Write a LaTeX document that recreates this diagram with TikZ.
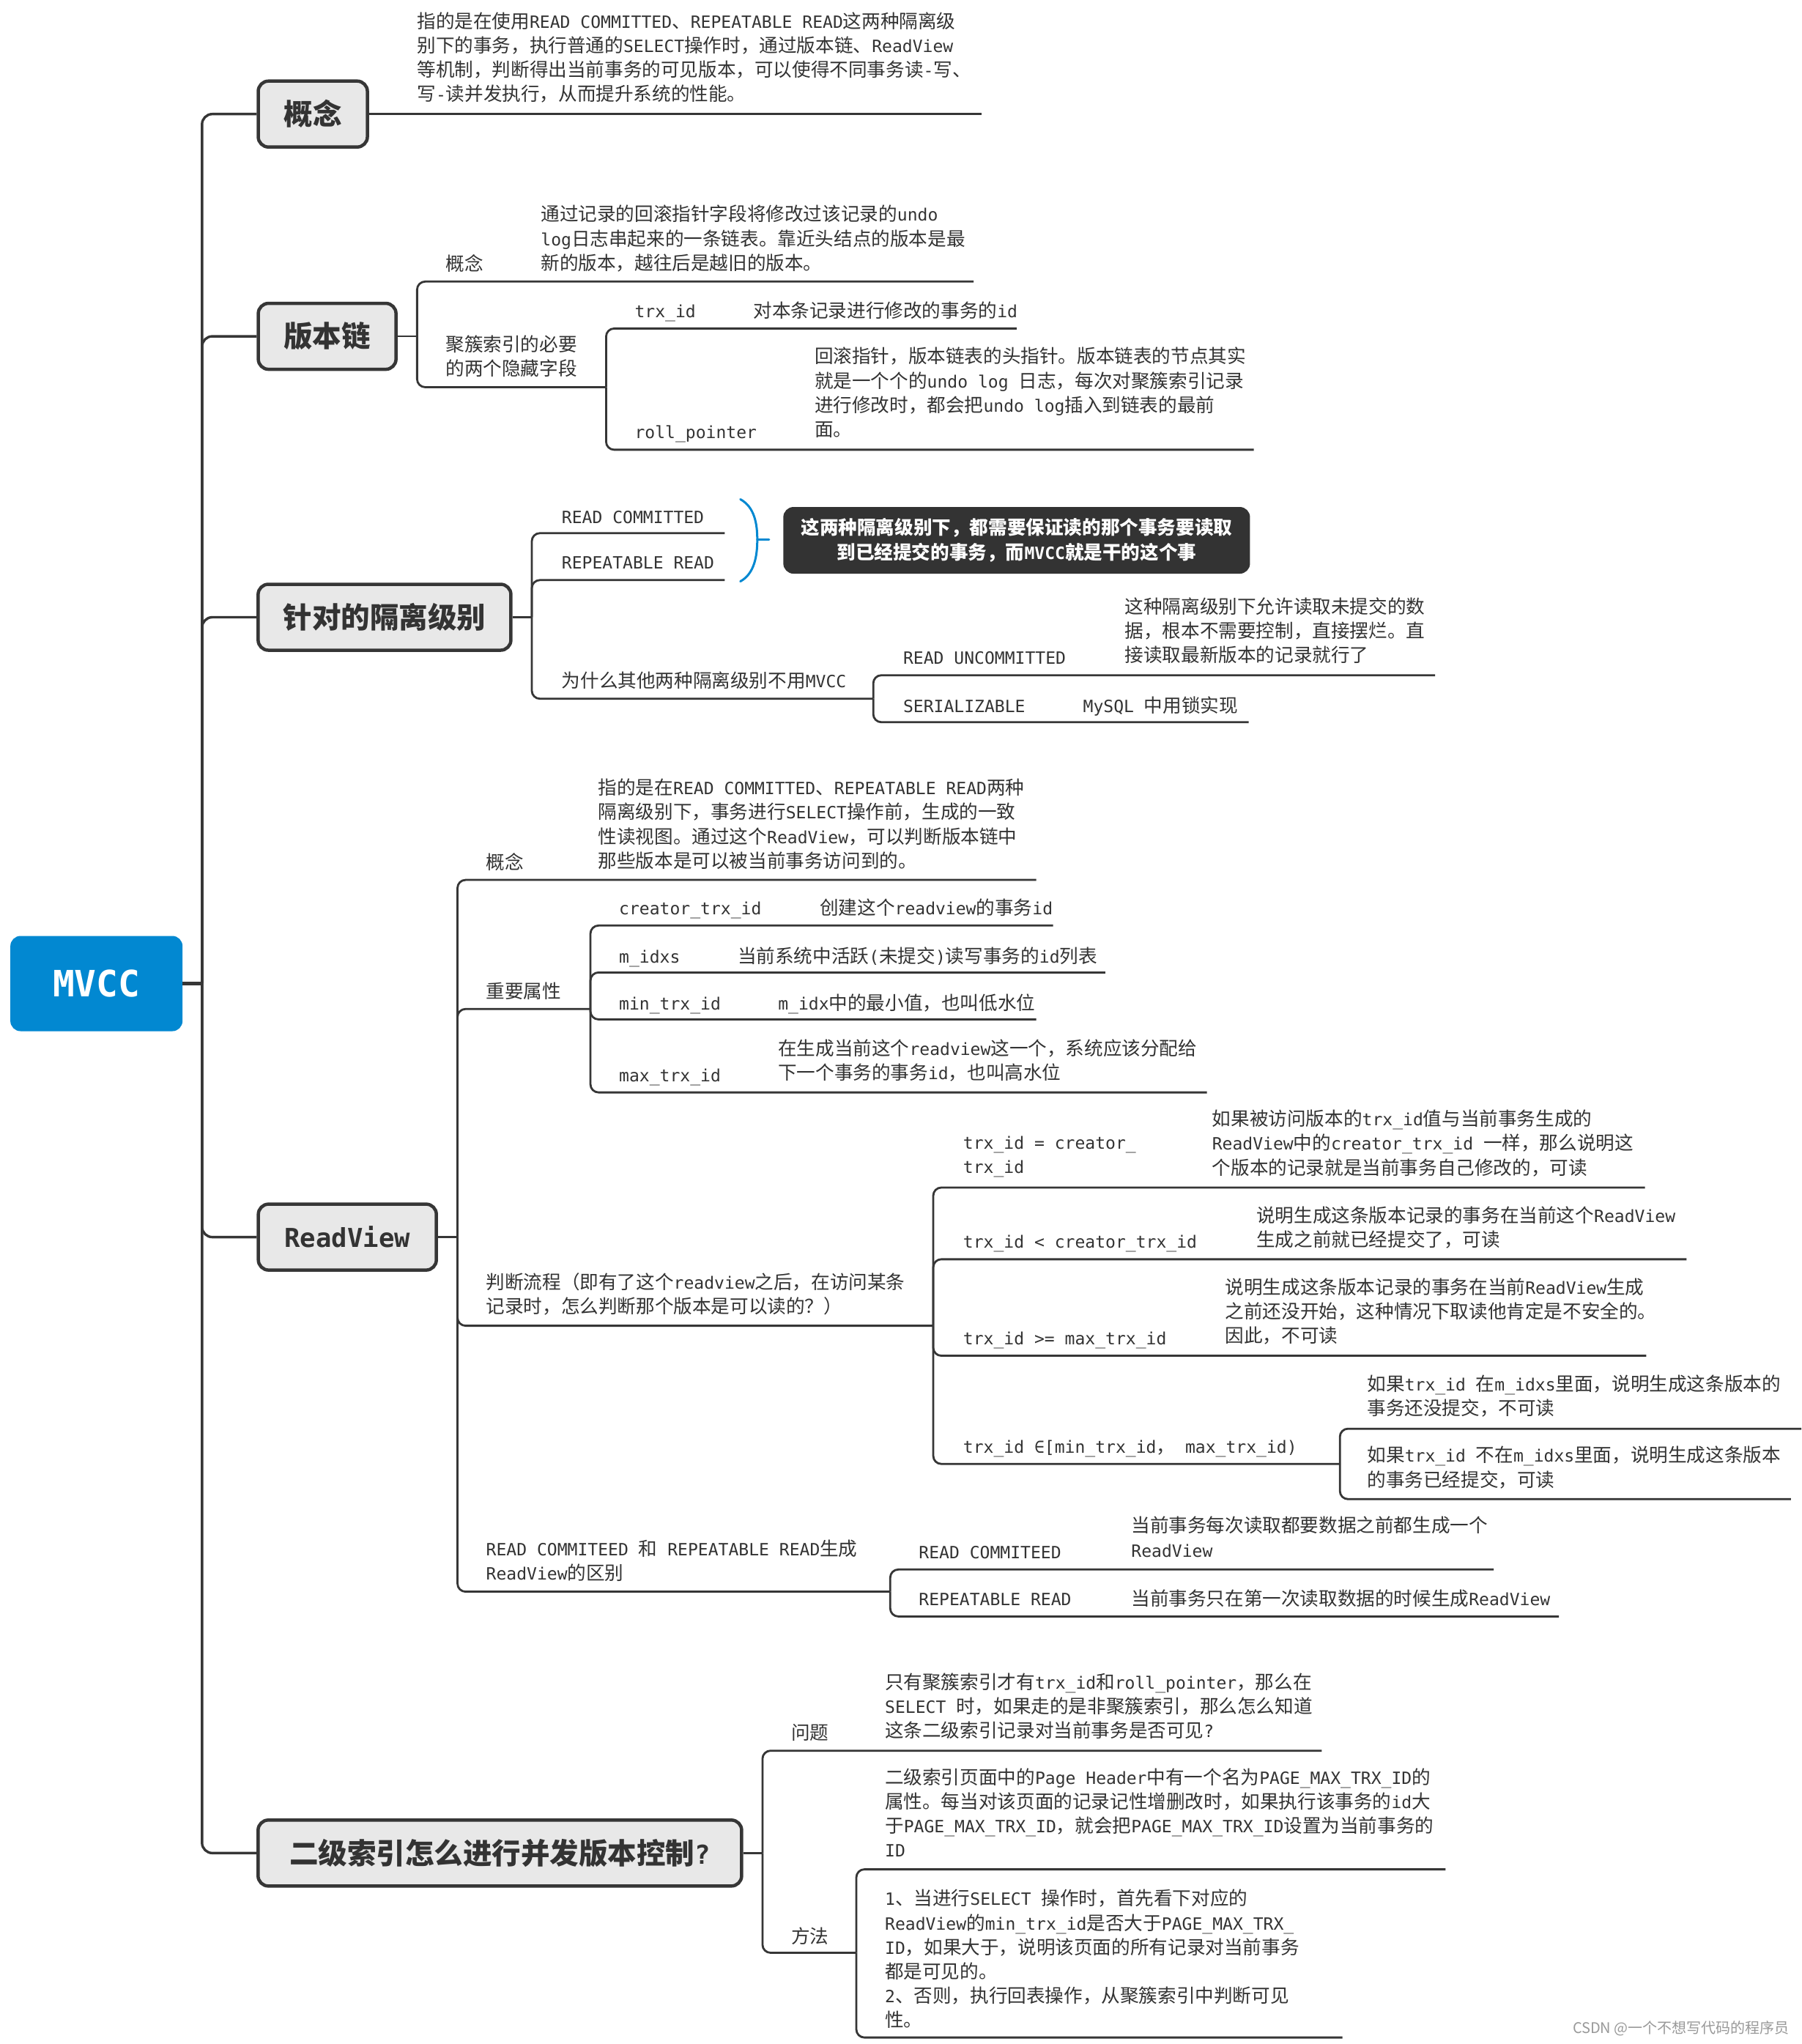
\documentclass[tikz,border=0pt]{standalone}
\usepackage{fontspec}
\setmainfont{Noto Sans CJK SC}
\newfontfamily\cjkf{Noto Sans CJK SC}
\newfontfamily\monof[Scale=0.9]{DejaVu Sans Mono}
\newcommand\mn[1]{{\monof#1}}
\definecolor{lc}{HTML}{363636}
\definecolor{tc}{HTML}{333333}
\definecolor{mblue}{HTML}{0288D1}
\definecolor{boxfill}{HTML}{E8E8E8}
\begin{document}
\begin{tikzpicture}[x=1.779pt,y=-1.779pt,
  txt/.style={anchor=north west, inner sep=0pt, outer sep=0pt, align=left, text=tc,
    yshift=13.3pt, font=\cjkf\fontsize{25.6}{33.1}\selectfont, execute at begin node=\strut},
  ln/.style={draw=lc, line width=2.8pt, rounded corners=11pt},
  spine/.style={draw=lc, line width=3.4pt, rounded corners=14pt},
  hbox/.style={draw=lc, line width=4.5pt, fill=boxfill, rounded corners=14pt,
    minimum height=90pt, inner sep=0pt, text=tc,
    font=\bfseries\cjkf\fontsize{39.5}{45}\selectfont},
  mvccbox/.style={fill=mblue, rounded corners=14pt, minimum width=235pt, minimum height=130pt,
    inner sep=0pt, text=white, font=\bfseries\monof\fontsize{55}{60}\selectfont},
  darkbox/.style={fill=tc, rounded corners=14pt, minimum width=637pt, minimum height=91pt,
    inner sep=0pt, align=center, text=white, font=\bfseries\cjkf\fontsize{25.6}{33.8}\selectfont},
  bracecol/.style={draw=mblue, line width=3pt, line cap=round},
  wm/.style={anchor=east, inner sep=0pt, text=black!40, font=\cjkf\fontsize{20}{24}\selectfont}
]
\fill[white] (0,0) rectangle (1382,1568);
\useasboundingbox (0,0) rectangle (1382,1568);

% ---------- root and main branches ----------
\node[mvccbox] (mvcc) at (74,754.5) {MVCC};
\coordinate (sj) at (155,754.5);
\node[hbox, minimum width=149pt] (b1) at (240,87.5) {概念};
\node[hbox, minimum width=188pt] (b2) at (251,258) {版本链};
\node[hbox, minimum width=345pt] (b3) at (295,473.5) {针对的隔离级别};
\node[hbox, minimum width=243pt] (b4) at (266.5,949) {\mn{ReadView}};
\node[hbox, minimum width=660pt] (b5) at (383.5,1421.5) {二级索引怎么进行并发版本控制\mn{?}};
\draw[spine, line width=4.5pt] (mvcc.east) -- (sj);
\foreach \b in {b1,b2,b3,b4,b5} \draw[spine] (sj) |- (\b.west);

% ---------- 概念 ----------
\node[txt] (c1) at (320,17) {指的是在使用\mn{READ COMMITTED}、\mn{REPEATABLE READ}这两种隔离级\\别下的事务，执行普通的\mn{SELECT}操作时，通过版本链、\mn{ReadView}\\等机制，判断得出当前事务的可见版本，可以使得不同事务读\mn{-}写、\\写\mn{-}读并发执行，从而提升系统的性能。};
\coordinate (c1e) at (753,87.5);
\draw[ln] (b1.east) -- (c1e);

% ---------- 版本链 ----------
\coordinate (j2) at (320,258);
\draw[ln] (b2.east) -- (j2);
\node[txt] (v1l) at (342,202) {概念};
\node[txt] (v1d) at (415,165) {通过记录的回滚指针字段将修改过该记录的\mn{undo}\\\mn{log}日志串起来的一条链表。靠近头结点的版本是最\\新的版本，越往后是越旧的版本。};
\coordinate (v1e) at (747,216);
\draw[ln] (j2) |- (v1e);
\node[txt] (v2l) at (342,265) {聚簇索引的必要\\的两个隐藏字段};
\coordinate (j2b) at (465,297);
\draw[ln] (j2) |- (j2b);
\node[txt] (v21l) at (487,238) {\mn{trx\_id}};
\node[txt] (v21d) at (578,238) {对本条记录进行修改的事务的\mn{id}};
\coordinate (v21e) at (780,252);
\draw[ln] (j2b) |- (v21e);
\node[txt] (v22l) at (487,331) {\mn{roll\_pointer}};
\node[txt] (v22d) at (625,274) {回滚指针，版本链表的头指针。版本链表的节点其实\\就是一个个的\mn{undo log }日志，每次对聚簇索引记录\\进行修改时，都会把\mn{undo log}插入到链表的最前\\面。};
\coordinate (v22e) at (962,345);
\draw[ln] (j2b) |- (v22e);

% ---------- 针对的隔离级别 ----------
\coordinate (j3) at (408,473.5);
\draw[ln] (b3.east) -- (j3);
\node[txt] (i1) at (431,396) {\mn{READ COMMITTED}};
\coordinate (i1e) at (556,409);
\draw[ln] (j3) |- (i1e);
\node[txt] (i2) at (431,431) {\mn{REPEATABLE READ}};
\coordinate (i2e) at (556,445);
\draw[ln] (j3) |- (i2e);
\draw[bracecol] (568,383) .. controls (579,389) and (581,402) .. (581,414)
  .. controls (581,426) and (579,440) .. (568,446);
\draw[bracecol] (581,414) -- (590,414);
\node[darkbox] (note) at (780,414.5) {这两种隔离级别下，都需要保证读的那个事务要读取\\到已经提交的事务，而\mn{MVCC}就是干的这个事};
\node[txt] (i3) at (431,522) {为什么其他两种隔离级别不用\mn{MVCC}};
\coordinate (j3c) at (670,536);
\draw[ln] (j3) |- (j3c);
\node[txt] (i31l) at (693,504) {\mn{READ UNCOMMITTED}};
\node[txt] (i31d) at (863,466) {这种隔离级别下允许读取未提交的数\\据，根本不需要控制，直接摆烂。直\\接读取最新版本的记录就行了};
\coordinate (i31e) at (1101,518);
\draw[ln] (j3c) |- (i31e);
\node[txt] (i32l) at (693,541) {\mn{SERIALIZABLE}};
\node[txt] (i32d) at (831,541) {\mn{MySQL }中用锁实现};
\coordinate (i32e) at (958,554);
\draw[ln] (j3c) |- (i32e);

% ---------- ReadView ----------
\coordinate (j4) at (351,949);
\draw[ln] (b4.east) -- (j4);
\node[txt] (r1l) at (373,661) {概念};
\node[txt] (r1d) at (459,605) {指的是在\mn{READ COMMITTED}、\mn{REPEATABLE READ}两种\\隔离级别下，事务进行\mn{SELECT}操作前，生成的一致\\性读视图。通过这个\mn{ReadView}，可以判断版本链中\\那些版本是可以被当前事务访问到的。};
\coordinate (r1e) at (795,675);
\draw[ln] (j4) |- (r1e);
\node[txt] (r2l) at (373,760) {重要属性};
\coordinate (j4b) at (453,774);
\draw[ln] (j4) |- (j4b);
\node[txt] (r21l) at (475,696) {\mn{creator\_trx\_id}};
\node[txt] (r21d) at (629,696) {创建这个\mn{readview}的事务\mn{id}};
\coordinate (r21e) at (808,710);
\draw[ln] (j4b) |- (r21e);
\node[txt] (r22l) at (475,733) {\mn{m\_idxs}};
\node[txt] (r22d) at (566,733) {当前系统中活跃\mn{(}未提交\mn{)}读写事务的\mn{id}列表};
\coordinate (r22e) at (848,746);
\draw[ln] (j4b) |- (r22e);
\node[txt] (r23l) at (475,769) {\mn{min\_trx\_id}};
\node[txt] (r23d) at (597,769) {\mn{m\_idx}中的最小值，也叫低水位};
\coordinate (r23e) at (795,782);
\draw[ln] (j4b) |- (r23e);
\node[txt] (r24l) at (475,824) {\mn{max\_trx\_id}};
\node[txt] (r24d) at (597,805) {在生成当前这个\mn{readview}这一个，系统应该分配给\\下一个事务的事务\mn{id}，也叫高水位};
\coordinate (r24e) at (926,838);
\draw[ln] (j4b) |- (r24e);
\node[txt] (r3l) at (373,984) {判断流程（即有了这个\mn{readview}之后，在访问某条\\记录时，怎么判断那个版本是可以读的？）};
\coordinate (j4c) at (716,1017);
\draw[ln] (j4) |- (j4c);
\node[txt] (r31l) at (739,879) {\mn{trx\_id = creator\_}\\\mn{trx\_id}};
\node[txt] (r31d) at (930,859) {如果被访问版本的\mn{trx\_id}值与当前事务生成的\\\mn{ReadView}中的\mn{creator\_trx\_id }一样，那么说明这\\个版本的记录就是当前事务自己修改的，可读};
\coordinate (r31e) at (1262,911);
\draw[ln] (j4c) |- (r31e);
\node[txt] (r32l) at (739,952) {\mn{trx\_id < creator\_trx\_id}};
\node[txt] (r32d) at (964,933) {说明生成这条版本记录的事务在当前这个\mn{ReadView}\\生成之前就已经提交了，可读};
\coordinate (r32e) at (1294,966);
\draw[ln] (j4c) |- (r32e);
\node[txt] (r33l) at (739,1026) {\mn{trx\_id >= max\_trx\_id}};
\node[txt] (r33d) at (940,988) {说明生成这条版本记录的事务在当前\mn{ReadView}生成\\之前还没开始，这种情况下取读他肯定是不安全的。\\因此，不可读};
\coordinate (r33e) at (1263,1040);
\draw[ln] (j4c) |- (r33e);
\node[txt] (r34l) at (739,1109) {\mn{trx\_id ∈[min\_trx\_id}，\mn{ max\_trx\_id)}};
\coordinate (j4d) at (1028,1123);
\draw[ln] (j4c) |- (j4d);
\node[txt] (r341) at (1049,1062) {如果\mn{trx\_id }在\mn{m\_idxs}里面，说明生成这条版本的\\事务还没提交，不可读};
\coordinate (r341e) at (1382,1096);
\draw[ln] (j4d) |- (r341e);
\node[txt] (r342) at (1049,1117) {如果\mn{trx\_id }不在\mn{m\_idxs}里面，说明生成这条版本\\的事务已经提交，可读};
\coordinate (r342e) at (1374,1150);
\draw[ln] (j4d) |- (r342e);
\node[txt] (r4l) at (373,1189) {\mn{READ COMMITEED }和\mn{ REPEATABLE READ}生成\\\mn{ReadView}的区别};
\coordinate (j4e) at (683,1221);
\draw[ln] (j4) |- (j4e);
\node[txt] (r41l) at (705,1190) {\mn{READ COMMITEED}};
\node[txt] (r41d) at (868,1171) {当前事务每次读取都要数据之前都生成一个\\\mn{ReadView}};
\coordinate (r41e) at (1146,1204);
\draw[ln] (j4e) |- (r41e);
\node[txt] (r42l) at (705,1226) {\mn{REPEATABLE READ}};
\node[txt] (r42d) at (868,1226) {当前事务只在第一次读取数据的时候生成\mn{ReadView}};
\coordinate (r42e) at (1196,1240);
\draw[ln] (j4e) |- (r42e);

% ---------- 二级索引 ----------
\coordinate (j5) at (585,1421.5);
\draw[ln] (b5.east) -- (j5);
\node[txt] (s1l) at (607,1329) {问题};
\node[txt] (s1d) at (679,1291) {只有聚簇索引才有\mn{trx\_id}和\mn{roll\_pointer}，那么在\\\mn{SELECT }时，如果走的是非聚簇索引，那么怎么知道\\这条二级索引记录对当前事务是否可见\mn{?}};
\coordinate (s1e) at (1014,1343);
\draw[ln] (j5) |- (s1e);
\node[txt] (s2l) at (607,1485) {方法};
\coordinate (j5b) at (657,1498);
\draw[ln] (j5) |- (j5b);
\node[txt] (s21) at (679,1364) {二级索引页面中的\mn{Page Header}中有一个名为\mn{PAGE\_MAX\_TRX\_ID}的\\属性。每当对该页面的记录记性增删改时，如果执行该事务的\mn{id}大\\于\mn{PAGE\_MAX\_TRX\_ID}，就会把\mn{PAGE\_MAX\_TRX\_ID}设置为当前事务的\\\mn{ID}};
\coordinate (s21e) at (1109,1434);
\draw[ln] (j5b) |- (s21e);
\node[txt] (s22) at (679,1457) {\mn{1}、当进行\mn{SELECT }操作时，首先看下对应的\\\mn{ReadView}的\mn{min\_trx\_id}是否大于\mn{PAGE\_MAX\_TRX\_}\\\mn{ID}，如果大于，说明该页面的所有记录对当前事务\\都是可见的。\\\mn{2}、否则，执行回表操作，从聚簇索引中判断可见\\性。};
\coordinate (s22e) at (1030,1563);
\draw[ln] (j5b) |- (s22e);

\node[wm] (wmark) at (1373,1556) {CSDN @一个不想写代码的程序员};
\end{tikzpicture}
\end{document}
